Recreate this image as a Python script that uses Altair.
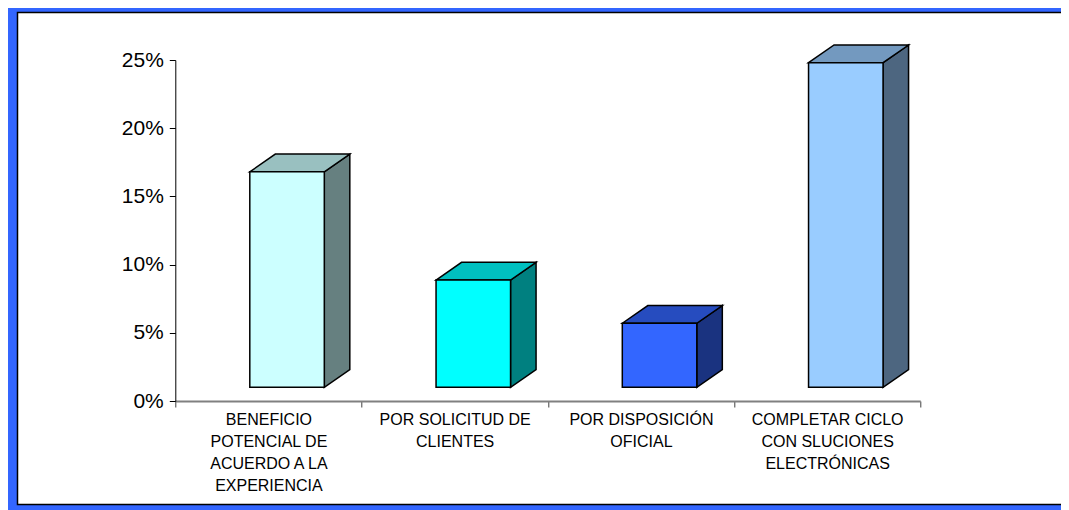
import altair as alt
import pandas as pd

# ---- data ----
categories = [
    "BENEFICIO\nPOTENCIAL DE\nACUERDO A LA\nEXPERIENCIA",
    "POR SOLICITUD DE\nCLIENTES",
    "POR DISPOSICIÓN\nOFICIAL",
    "COMPLETAR CICLO\nCON SLUCIONES\nELECTRÓNICAS",
]
values = [0.168, 0.0887, 0.057, 0.248]
base_value = 0.01
y_ticks = [0.0, 0.05, 0.10, 0.15, 0.20, 0.25]

front_colors = ["#CCFFFF", "#00FFFF", "#3366FF", "#99CCFF"]
top_colors = ["#99C0C0", "#00C0C0", "#264CBF", "#7399BF"]
side_colors = ["#668080", "#008080", "#1A3380", "#4D6680"]

# ---- 3D styling (band units / value units) ----
BAR_LEFT, BAR_RIGHT = 0.40, 0.80
DEPTH_X = 0.137
DEPTH_Y = 0.013

rows = []
for i, (v, fc, tc, sc) in enumerate(zip(values, front_colors, top_colors, side_colors)):
    x0, x1 = i + BAR_LEFT, i + BAR_RIGHT
    faces = [
        ("side", sc, [(x1, v, base_value), (x1 + DEPTH_X, v + DEPTH_Y, base_value + DEPTH_Y)]),
        ("top", tc, [(x0, v, v), (x0 + DEPTH_X, v + DEPTH_Y, v),
                     (x1, v + DEPTH_Y, v), (x1 + DEPTH_X, v + DEPTH_Y, v + DEPTH_Y)]),
        ("front", fc, [(x0, v, base_value), (x1, v, base_value)]),
    ]
    for face, color, pts in faces:
        for x, y, y2 in pts:
            rows.append({"poly": f"{i}-{face}", "x": x, "y": y, "y2": y2, "color": color})
poly_df = pd.DataFrame(rows)
bar_df = pd.DataFrame({"category": categories, "value": values})

FONT = "Liberation Sans"
W, H = 745, 341

y_axis = alt.Axis(values=y_ticks, format=".0%", title=None, labelFont=FONT, labelFontSize=21,
                  labelColor="black", labelPadding=6, tickSize=6, tickColor="black",
                  domainColor="black", domainWidth=1, grid=False, zindex=1)
y_scale = alt.Scale(domain=[0, 0.25], nice=False)

frame = alt.Chart(pd.DataFrame({"k": [0]})).mark_rect(
    fill="white", stroke="black", strokeWidth=1.5
).encode(
    x=alt.value(-157.8), x2=alt.value(900), y=alt.value(-47.5), y2=alt.value(444.5)
)

axis_layer = alt.Chart(bar_df).mark_bar(opacity=0).encode(
    x=alt.X("category:N", sort=categories,
            scale=alt.Scale(paddingInner=0, paddingOuter=0),
            axis=alt.Axis(title=None, orient="bottom", labelAngle=0, tickBand="extent",
                          labelExpr="split(datum.label, '\\n')", labelFont=FONT,
                          labelFontSize=16, labelLineHeight=22, labelColor="black",
                          labelPadding=4, labelLimit=250, tickSize=6, tickColor="#404040",
                          domainColor="#808080", domainWidth=2, grid=False, zindex=1,
                          labelOverlap=False)),
    y=alt.Y("value:Q", scale=y_scale, axis=y_axis),
)

bars = alt.Chart(poly_df).mark_area(
    stroke="black", strokeWidth=1.5, interpolate="linear", orient="vertical"
).encode(
    x=alt.X("x:Q", scale=alt.Scale(domain=[0, 4], nice=False, zero=False), axis=None),
    y=alt.Y("y:Q", scale=y_scale, axis=y_axis, stack=None),
    y2="y2:Q",
    detail="poly:N",
    color=alt.Color("color:N", scale=None),
)

chart = alt.layer(frame, axis_layer, bars).resolve_scale(x="independent").properties(
    width=W, height=H,
    padding={"left": 167.3, "top": 52, "right": 140.7, "bottom": 109},
    autosize=alt.AutoSizeParams(type="none"),
    background="#3366FF",
).configure_view(stroke=None)

chart.save("out.html", embed_options={"renderer": "svg", "actions": False})
